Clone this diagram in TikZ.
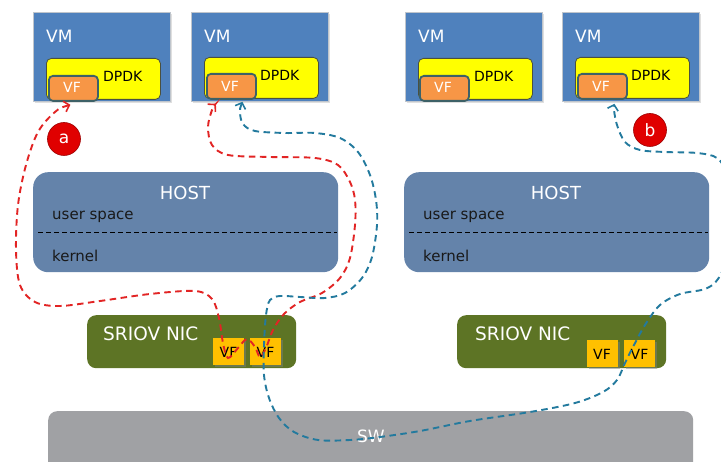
\documentclass[tikz,border=0pt]{standalone}
\usepackage{fontspec}
\setmainfont{DejaVu Sans}
\usetikzlibrary{arrows.meta,shadows}
\definecolor{vmblue}{HTML}{4F81BD}
\definecolor{vmedge}{HTML}{BFC5CC}
\definecolor{dpdkyel}{HTML}{FFFF00}
\definecolor{dpdkedge}{HTML}{4A5040}
\definecolor{vforange}{HTML}{F79646}
\definecolor{vfedge}{HTML}{3D6167}
\definecolor{hostblue}{HTML}{6483AA}
\definecolor{nicolive}{HTML}{5D7425}
\definecolor{nicvf}{HTML}{FFC000}
\definecolor{swgray}{HTML}{A0A1A4}
\definecolor{redflowc}{HTML}{E22424}
\definecolor{blueflowc}{HTML}{237A9E}
\definecolor{badgered}{HTML}{E00000}
\begin{document}
\begin{tikzpicture}[x=1pt,y=-1pt,
  vmbox/.style={draw=vmedge, line width=0.8pt, fill=vmblue, minimum width=137pt, minimum height=89pt, anchor=north west, inner sep=0pt, drop shadow={shadow xshift=2pt, shadow yshift=-2pt, opacity=0.25}},
  dpdkbox/.style={draw=dpdkedge, line width=0.8pt, fill=dpdkyel, rounded corners=5pt, minimum width=114pt, minimum height=41pt, anchor=north west, inner sep=0pt},
  vfbox/.style={draw=vfedge, line width=1.8pt, fill=vforange, rounded corners=4pt, minimum width=49pt, minimum height=25pt, anchor=north west, inner sep=0pt},
  vflab/.style={text=white, font=\fontsize{14}{14}\selectfont, anchor=base},
  vmlab/.style={text=white, font=\fontsize{17}{17}\selectfont, anchor=base west, inner sep=0pt},
  dpdklab/.style={text=black, font=\fontsize{14}{14}\selectfont, anchor=base west, inner sep=0pt},
  hostbox/.style={fill=hostblue, rounded corners=15pt, minimum width=305pt, minimum height=100pt, anchor=north west, inner sep=0pt},
  hostlab/.style={text=white, font=\fontsize{18}{18}\selectfont, anchor=base, inner sep=0pt},
  layerlab/.style={text=black!90, font=\fontsize{15}{15}\selectfont, anchor=base west, inner sep=0pt},
  sepline/.style={black, line width=0.9pt, dash pattern=on 5pt off 3pt},
  nicbox/.style={fill=nicolive, rounded corners=9pt, minimum width=209pt, minimum height=53pt, anchor=north west, inner sep=0pt},
  niclab/.style={text=white, font=\fontsize{18.5}{18.5}\selectfont, anchor=base west, inner sep=0pt},
  nicvfbox/.style={fill=nicvf, minimum width=31pt, minimum height=27pt, anchor=north west, inner sep=0pt, drop shadow={shadow xshift=2pt, shadow yshift=-2pt, opacity=0.45}},
  nicvflab/.style={text=black, font=\fontsize{14}{14}\selectfont, anchor=base},
  swbox/.style={fill=swgray, rounded corners=9pt, minimum width=645pt, minimum height=70pt, anchor=north west, inner sep=0pt},
  badge/.style={circle, fill=badgered, draw=badgered!70!black, line width=0.6pt, minimum size=33pt, inner sep=0pt, text=white, font=\fontsize{17}{17}\selectfont},
  tipshape/.tip={Straight Barb[length=5pt,width=11pt,line width=1.6pt]},
  redflow/.style={draw=redflowc, line width=1.9pt, dash pattern=on 6.5pt off 4.5pt, tipshape-tipshape},
  blueflow/.style={draw=blueflowc, line width=1.9pt, dash pattern=on 6.5pt off 4.5pt, tipshape-tipshape}
]
\useasboundingbox (0,0) rectangle (721,462);
\clip (0,0) rectangle (721,462);
\fill[white] (0,0) rectangle (721,462);

% switch
\node[swbox] (sw) at (48,411) {};
\node[text=white, font=\fontsize{17}{17}\selectfont, anchor=base] (swt) at (371,443) {SW};

% VMs
\node[vmbox] (vm1) at (33,12) {};
\node[vmbox] (vm2) at (191,12) {};
\node[vmbox] (vm3) at (405,12) {};
\node[vmbox] (vm4) at (562,12) {};
\node[vmlab] (vm1t) at (46,43) {VM};
\node[vmlab] (vm2t) at (204,43) {VM};
\node[vmlab] (vm3t) at (418,43) {VM};
\node[vmlab] (vm4t) at (575,43) {VM};

\node[dpdkbox] (dp1) at (46,58) {};
\node[dpdkbox] (dp2) at (204,57) {};
\node[dpdkbox] (dp3) at (418,58) {};
\node[dpdkbox] (dp4) at (575,57) {};
\node[dpdklab] (dp1t) at (103,82) {DPDK};
\node[dpdklab] (dp2t) at (260,81) {DPDK};
\node[dpdklab] (dp3t) at (474,82) {DPDK};
\node[dpdklab] (dp4t) at (631,81) {DPDK};

\node[vfbox] (vfa) at (48,75) {};
\node[vfbox] (vfb) at (206,73) {};
\node[vfbox] (vfc) at (419,75) {};
\node[vfbox] (vfd) at (577,73) {};
\node[vflab] (vfat) at (72,93) {VF};
\node[vflab] (vfbt) at (230,92) {VF};
\node[vflab] (vfct) at (443,93) {VF};
\node[vflab] (vfdt) at (601,92) {VF};

% badges
\node[badge] (ba) at (64,139) {a};
\node[badge] (bb) at (650,130) {b};

% hosts
\node[hostbox] (host1) at (33,172) {};
\node[hostbox] (host2) at (404,172) {};
\node[hostlab] (h1t) at (185,200) {HOST};
\node[hostlab] (h2t) at (556,200) {HOST};
\node[layerlab] (u1) at (52,220) {user space};
\node[layerlab] (k1) at (52,262) {kernel};
\node[layerlab] (u2) at (423,220) {user space};
\node[layerlab] (k2) at (423,262) {kernel};
\draw[sepline] (38,232) -- (337,232);
\draw[sepline] (409,232) -- (708,232);

% NICs
\node[nicbox] (nic1) at (87,315) {};
\node[nicbox] (nic2) at (457,315) {};
\node[niclab] (n1t) at (103,341) {SRIOV NIC};
\node[niclab] (n2t) at (475,341) {SRIOV NIC};
\node[nicvfbox] (nva) at (213,338) {};
\node[nicvfbox] (nvb) at (250,338) {};
\node[nicvfbox] (nvc) at (587,340) {};
\node[nicvfbox] (nvd) at (624,340) {};
\node[nicvflab] (nvat) at (228.5,358) {VF};
\node[nicvflab] (nvbt) at (265.5,358) {VF};
\node[nicvflab] (nvct) at (602,360) {VF};
\node[nicvflab] (nvdt) at (639.5,360) {VF};

% flow end points
\coordinate (ra) at ([xshift=-3pt,yshift=-3pt]vfa.south);
\coordinate (rb) at ([xshift=-15.5pt,yshift=-4pt]vfb.south);
\coordinate (bs) at ([xshift=11pt,yshift=-2pt]vfb.south);
\coordinate (be) at ([xshift=12pt,yshift=-4pt]vfd.south);

% red flow (a)
\draw[redflow] plot[smooth, tension=0.55] coordinates {
  (ra) (55,112) (38,132) (26,165) (18,205) (16,250) (20,285) (35,302) (60,306)
  (100,301) (150,294) (195,291) (212,299) (219,318) (223,343) (228,358)
  (238,348) (247,339) (255,347) (260,357) (266,348) (273,330) (284,314)
  (300,302) (322,293) (340,278) (350,258) (355,225) (355,200) (350,182)
  (338,165) (315,158) (270,157) (228,155) (212,145) (208,127) (212,110) (rb)};

% blue flow (b)
\draw[blueflow] plot[smooth, tension=0.55] coordinates {
  (bs) (240,112) (243,124) (255,131) (285,133) (315,133) (340,138) (358,152)
  (370,175) (376,200) (377,225) (372,257) (362,278) (345,293) (325,298)
  (300,297) (280,296) (270,300) (266,315) (264,345) (264,375) (269,398)
  (279,418) (294,432) (318,440) (350,440) (380,437) (420,431) (470,421)
  (530,412) (575,403) (603,392) (617,380) (625,363) (633,347) (645,325)
  (660,305) (680,294) (705,289) (718,279) (728,255) (733,215) (727,175)
  (717,158) (697,153) (665,152) (640,150) (625,142) (617,125) (614,110) (be)};
\end{tikzpicture}
\end{document}
